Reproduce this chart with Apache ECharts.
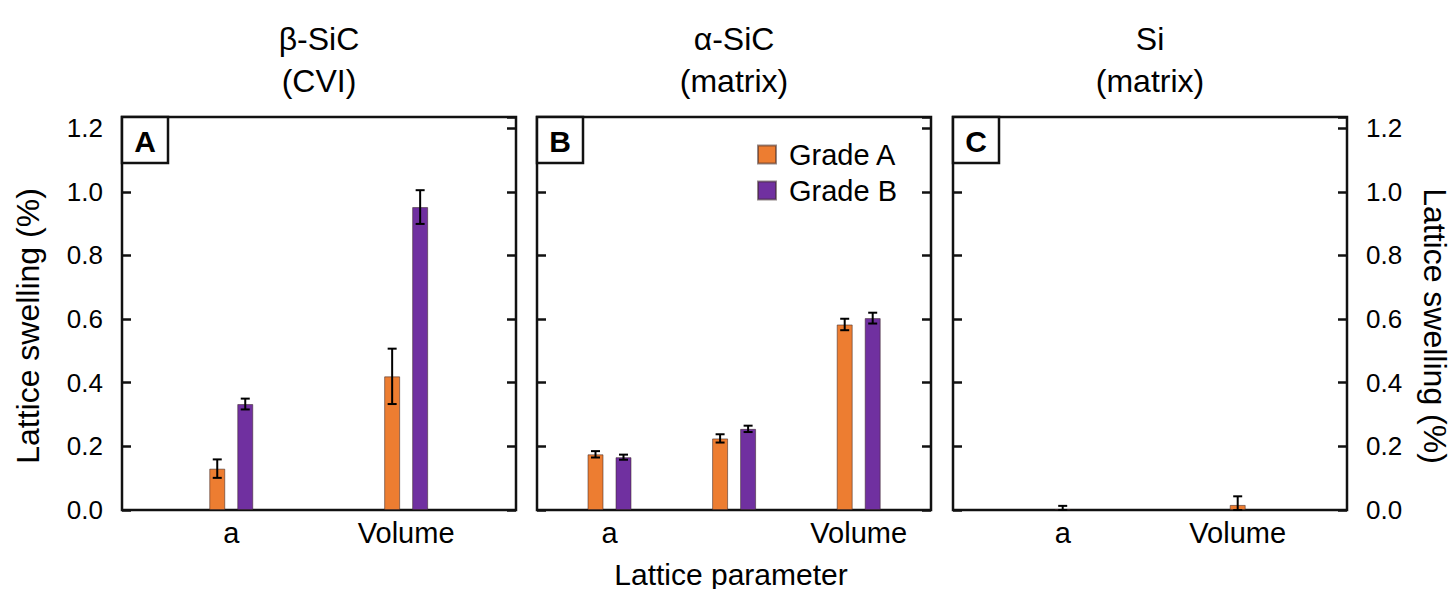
<!DOCTYPE html>
<html>
<head>
<meta charset="utf-8">
<script src="https://cdn.jsdelivr.net/npm/echarts@6/dist/echarts.min.js"></script>
<style>
html,body{margin:0;padding:0;background:#fff;}
#chart{width:1453px;height:589px;}
</style>
</head>
<body>
<div id="chart"></div>
<script>
// ---- data ----
const catsBeta = ['a', 'Volume'];
const catsAlpha = ['a', 'c', 'Volume'];
const catsSi = ['a', 'Volume'];

const betaGradeA = [0.13, 0.42];
const betaGradeAErr = [0.029, 0.087];
const betaGradeB = [0.333, 0.952];
const betaGradeBErr = [0.017, 0.053];

const alphaGradeA = [0.175, 0.225, 0.583];
const alphaGradeAErr = [0.010, 0.013, 0.018];
const alphaGradeB = [0.166, 0.255, 0.603];
const alphaGradeBErr = [0.008, 0.010, 0.017];

const siGradeA = [0.003, 0.016];
const siGradeAErr = [0.010, 0.027];

const yTickStep = 0.2;
const yMax = 1.235;

const panelTitles = [['β-SiC', '(CVI)'], ['α-SiC', '(matrix)'], ['Si', '(matrix)']];
const panelLetters = ['A', 'B', 'C'];
const yName = 'Lattice swelling (%)';
const xName = 'Lattice parameter';
const seriesNames = ['Grade A', 'Grade B'];

// ---- styles ----
const ORANGE = '#ED7D31';
const PURPLE = '#7030A0';
const INK = '#111';
const FONT = '"Liberation Sans", Arial, sans-serif';

const frames = [
  { left: 122, top: 117, width: 394, height: 393 },
  { left: 537, top: 117, width: 394, height: 393 },
  { left: 953, top: 117, width: 394, height: 393 }
];
const barGrids = [
  { left: 143.8, top: 117, width: 349.8, height: 393 },
  { left: 547.2, top: 117, width: 373.8, height: 393 },
  { left: 975.2, top: 117, width: 350, height: 393 }
];

const grids = [];
frames.forEach((f, i) => {
  grids.push(Object.assign({ show: true, borderColor: INK, borderWidth: 2.5, backgroundColor: '#fff', containLabel: false }, f));
  grids.push(Object.assign({ show: false, containLabel: false }, barGrids[i]));
});

const cats = [catsBeta, catsAlpha, catsSi];
const xAxes = [];
cats.forEach((c, i) => {
  xAxes.push({ type: 'value', gridIndex: 2 * i, show: false, min: 0, max: 1 });
  xAxes.push({
    type: 'category', gridIndex: 2 * i + 1, data: c,
    axisLine: { show: false }, axisTick: { show: false },
    axisLabel: { fontSize: 29, color: '#000', margin: 8, fontFamily: FONT }
  });
});

function tickFmt(v) {
  const k = v / yTickStep;
  return Math.abs(k - Math.round(k)) < 1e-6 ? v.toFixed(1) : '';
}
function frameY(grid, pos, showLabel) {
  return {
    type: 'value', gridIndex: grid, position: pos, min: 0, max: yMax, interval: yTickStep,
    axisLine: { show: false }, splitLine: { show: false },
    axisTick: { show: true, inside: true, length: 9, lineStyle: { color: INK, width: 2.5 } },
    axisLabel: { show: showLabel, fontSize: 26, color: '#000', margin: 19, formatter: tickFmt, fontFamily: FONT }
  };
}
function hiddenY(grid) {
  return { type: 'value', gridIndex: grid, min: 0, max: yMax, show: false, splitLine: { show: false } };
}
const yAxes = [
  frameY(0, 'left', true), frameY(0, 'right', false), hiddenY(1),
  frameY(2, 'left', false), frameY(2, 'right', false), hiddenY(3),
  frameY(4, 'left', false), frameY(4, 'right', true), hiddenY(5)
];
// bar-grid y axis indices
const barY = [2, 5, 8];

function barSeries(name, data, color, panel) {
  return {
    type: 'bar', name: name, data: data,
    xAxisIndex: 2 * panel + 1, yAxisIndex: barY[panel],
    barWidth: 16, barGap: '75%',
    itemStyle: { color: color, borderColor: 'rgba(60,40,40,0.55)', borderWidth: 1 },
    z: 3
  };
}
function errSeries(vals, errs, panel, offset) {
  return {
    type: 'custom', name: 'err',
    xAxisIndex: 2 * panel + 1, yAxisIndex: barY[panel],
    data: vals.map((v, i) => [i, v, errs[i]]),
    z: 5,
    renderItem: function (params, api) {
      const idx = api.value(0), v = api.value(1), e = api.value(2);
      const x = api.coord([idx, v])[0] + offset;
      const yHi = api.coord([idx, v + e])[1];
      const yLo = api.coord([idx, Math.max(0, v - e)])[1];
      const cap = 4.5;
      const st = { stroke: '#000', lineWidth: 2 };
      return {
        type: 'group',
        children: [
          { type: 'line', shape: { x1: x, y1: yHi, x2: x, y2: yLo }, style: st },
          { type: 'line', shape: { x1: x - cap, y1: yHi, x2: x + cap, y2: yHi }, style: st },
          { type: 'line', shape: { x1: x - cap, y1: yLo, x2: x + cap, y2: yLo }, style: st }
        ]
      };
    }
  };
}

const series = [
  barSeries(seriesNames[0], betaGradeA, ORANGE, 0),
  barSeries(seriesNames[1], betaGradeB, PURPLE, 0),
  errSeries(betaGradeA, betaGradeAErr, 0, -14),
  errSeries(betaGradeB, betaGradeBErr, 0, 14),
  barSeries(seriesNames[0], alphaGradeA, ORANGE, 1),
  barSeries(seriesNames[1], alphaGradeB, PURPLE, 1),
  errSeries(alphaGradeA, alphaGradeAErr, 1, -14),
  errSeries(alphaGradeB, alphaGradeBErr, 1, 14),
  barSeries(seriesNames[0], siGradeA, ORANGE, 2),
  errSeries(siGradeA, siGradeAErr, 2, 0)
];

// ---- text & decorations ----
const graphics = [];
frames.forEach((f, i) => {
  const cx = f.left + f.width / 2;
  graphics.push({ type: 'text', x: cx, y: 39, style: { text: panelTitles[i][0], font: '32px ' + FONT, fill: '#000', align: 'center', verticalAlign: 'middle' }, z: 10 });
  graphics.push({ type: 'text', x: cx, y: 81, style: { text: panelTitles[i][1], font: '32px ' + FONT, fill: '#000', align: 'center', verticalAlign: 'middle' }, z: 10 });
  graphics.push({ type: 'rect', shape: { x: f.left, y: f.top, width: 46, height: 46 }, style: { fill: '#fff', stroke: INK, lineWidth: 2.5 }, z: 10 });
  graphics.push({ type: 'text', x: f.left + 23, y: f.top + 24, style: { text: panelLetters[i], font: 'bold 30px ' + FONT, fill: '#000', align: 'center', verticalAlign: 'middle' }, z: 11 });
});
graphics.push({ type: 'text', x: 28, y: 326, rotation: Math.PI / 2, style: { text: yName, font: '32px ' + FONT, fill: '#000', align: 'center', verticalAlign: 'middle' }, z: 10 });
graphics.push({ type: 'text', x: 1435, y: 326, rotation: -Math.PI / 2, style: { text: yName, font: '32px ' + FONT, fill: '#000', align: 'center', verticalAlign: 'middle' }, z: 10 });
graphics.push({ type: 'text', x: 731, y: 574, style: { text: xName, font: '30px ' + FONT, fill: '#000', align: 'center', verticalAlign: 'middle' }, z: 10 });

const chart = echarts.init(document.getElementById('chart'), null, { renderer: 'svg' });
chart.setOption({
  animation: false,
  backgroundColor: '#fff',
  textStyle: { fontFamily: FONT },
  grid: grids,
  xAxis: xAxes,
  yAxis: yAxes,
  legend: {
    data: seriesNames, orient: 'vertical', left: 757, top: 140, padding: 0,
    itemWidth: 18, itemHeight: 18, itemGap: 7, icon: 'rect',
    textStyle: { fontSize: 29, color: '#000', padding: [0, 0, 0, 8], fontFamily: FONT }
  },
  series: series,
  graphic: graphics
});
</script>
</body>
</html>
